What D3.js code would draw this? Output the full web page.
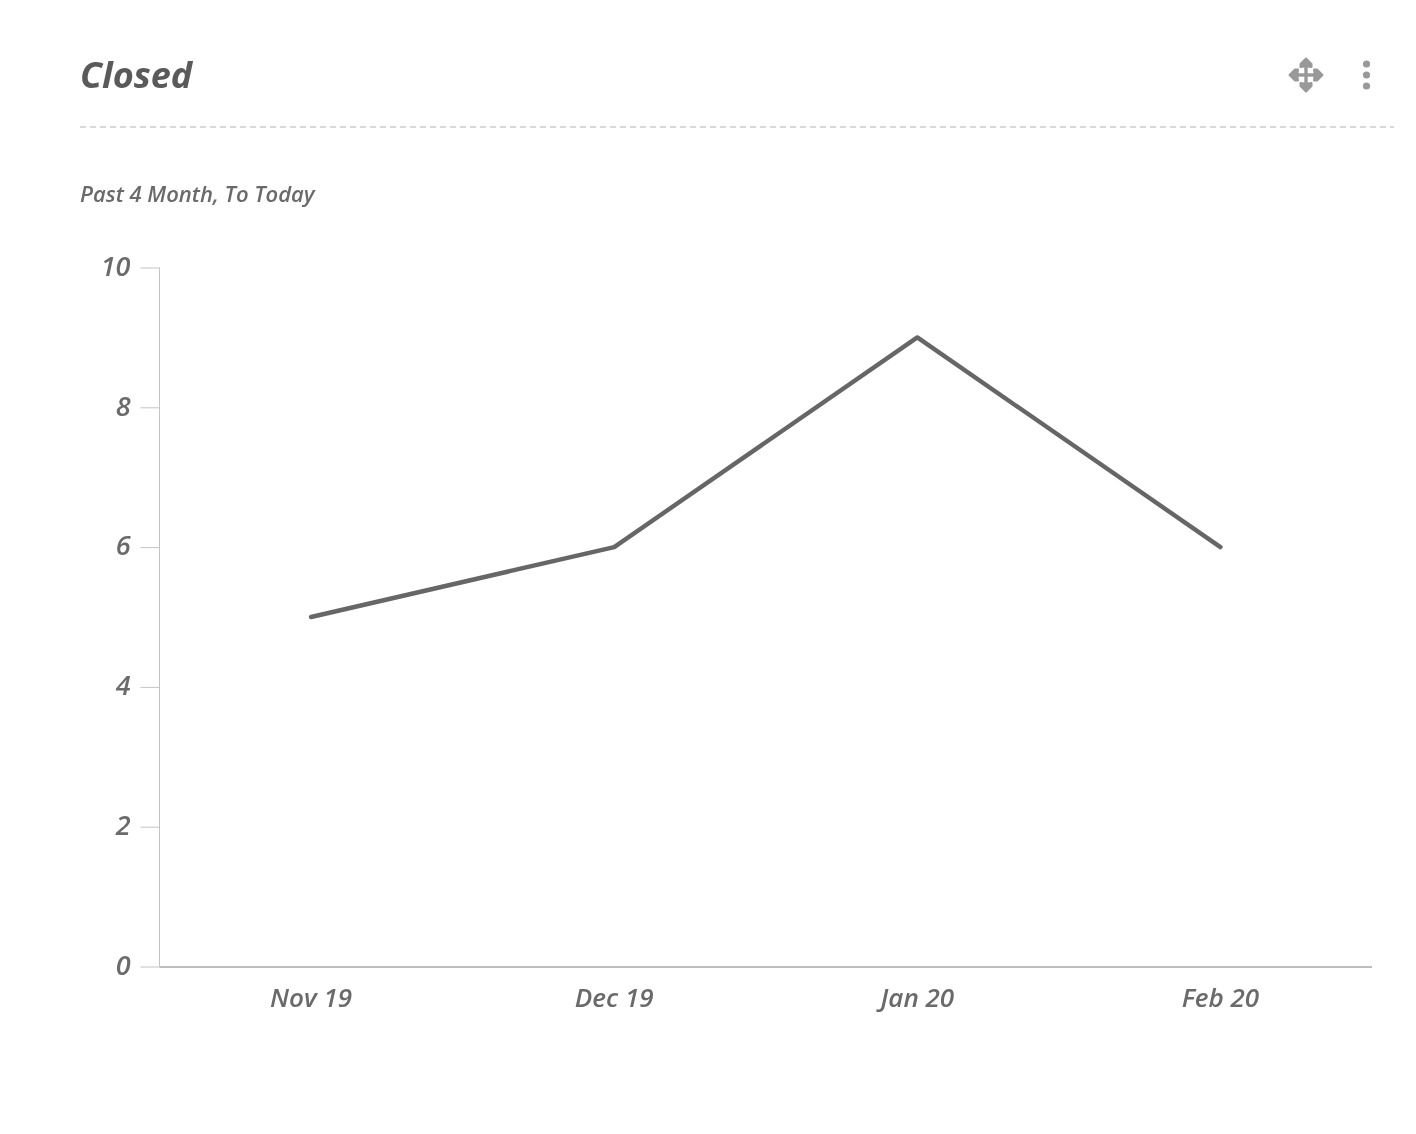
<!DOCTYPE html>
<html>
<head>
<meta charset="utf-8">
<title>Closed</title>
<script src="https://cdn.jsdelivr.net/npm/d3@7/dist/d3.min.js"></script>
<style>
  html, body { margin: 0; padding: 0; background: #fff; }
  svg { display: block; font-family: "Open Sans", sans-serif; font-style: italic; will-change: transform; }
</style>
</head>
<body>
<svg id="chart" width="1416" height="1134"></svg>
<script>
// Closed items per month
const months = ["Nov 19", "Dec 19", "Jan 20", "Feb 20"];
const closedCounts = [5, 6, 9, 6];
const yTicks = [0, 2, 4, 6, 8, 10];

const title = "Closed";
const subtitle = "Past 4 Month, To Today";

const svg = d3.select("#chart");

const plot = { left: 159.5, right: 1372, top: 267.5, bottom: 966.5 };

const x = d3.scaleBand().domain(months).range([plot.left, plot.right]);
const y = d3.scaleLinear().domain([0, 10]).range([plot.bottom, plot.top]);

// Header
svg.append("text").attr("x", 80).attr("y", 87.5)
  .attr("font-size", 36).attr("font-weight", 700).attr("fill", "#5a5a5a")
  .text(title);

svg.append("line")
  .attr("x1", 80).attr("x2", 1394).attr("y1", 127).attr("y2", 127)
  .attr("stroke", "#d9d9d9").attr("stroke-width", 2).attr("stroke-dasharray", "6 4");

svg.append("text").attr("x", 80).attr("y", 202)
  .attr("font-size", 22).attr("font-weight", 600).attr("fill", "#6a6a6a")
  .text(subtitle);

// Move handle: a cross with four arrow heads
const moveIcon = svg.append("g").attr("transform", "translate(1306,75)").attr("fill", "#999999");
moveIcon.append("rect").attr("x", -14).attr("y", -1.7).attr("width", 28).attr("height", 3.4);
moveIcon.append("rect").attr("x", -1.7).attr("y", -14).attr("width", 3.4).attr("height", 28);
[0, 90, 180, 270].forEach(angle => {
  moveIcon.append("path")
    .attr("transform", `rotate(${angle})`)
    .attr("d", "M0,-16.5 L5.5,-11 L5.5,-8 L2,-8.5 L-2,-8.5 L-5.5,-8 L-5.5,-11 Z")
    .attr("stroke", "#999999").attr("stroke-width", 2).attr("stroke-linejoin", "round");
});

// Overflow menu dots
svg.append("g").attr("fill", "#999999")
  .selectAll("circle").data([-11, 0, 11]).join("circle")
  .attr("cx", 1366.5).attr("cy", d => 75 + d).attr("r", 3.6);

// Y axis
const yAxis = svg.append("g")
  .attr("transform", `translate(${plot.left},0)`)
  .call(d3.axisLeft(y).tickValues(yTicks).tickSize(19).tickPadding(10).tickFormat(d3.format("d")));
yAxis.selectAll(".domain").attr("stroke", "#c4c4c4").attr("stroke-width", 1)
  .attr("d", `M0,${plot.top}V${plot.bottom}`);
yAxis.selectAll(".tick line").attr("stroke", "#c4c4c4");
yAxis.selectAll(".tick text")
  .attr("font-family", '"Open Sans", sans-serif')
  .attr("font-size", 27).attr("font-weight", 600).attr("fill", "#6a6a6a")
  .attr("dy", "0.29em");

// X axis
const xAxis = svg.append("g")
  .attr("transform", `translate(0,${plot.bottom})`)
  .call(d3.axisBottom(x).tickSize(0).tickPadding(22));
xAxis.selectAll(".domain").attr("stroke", "#bdbdbd").attr("stroke-width", 2)
  .attr("d", `M${plot.left},0.5H${plot.right}`);
xAxis.selectAll(".tick text")
  .attr("font-family", '"Open Sans", sans-serif')
  .attr("font-size", 26).attr("font-weight", 600).attr("fill", "#6a6a6a");

// Series line
const line = d3.line()
  .x(d => x(d.month) + x.bandwidth() / 2)
  .y(d => y(d.value));

svg.append("path")
  .datum(months.map((month, i) => ({ month, value: closedCounts[i] })))
  .attr("fill", "none").attr("stroke", "#666666").attr("stroke-width", 4.4)
  .attr("stroke-linejoin", "round").attr("stroke-linecap", "round")
  .attr("d", line);
</script>
</body>
</html>
